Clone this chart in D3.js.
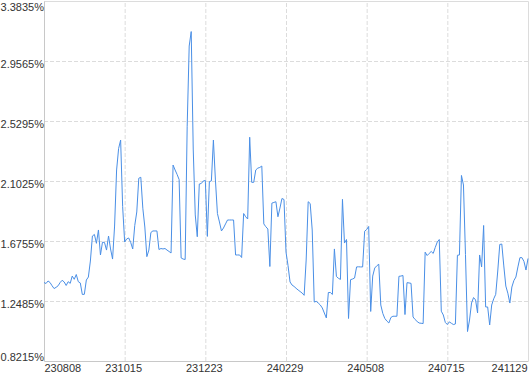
<!DOCTYPE html>
<html>
<head>
<meta charset="utf-8">
<script src="https://cdn.jsdelivr.net/npm/d3@7"></script>
<style>
  body { margin: 0; background: #fff; }
  svg text { font-family: Tahoma, "Liberation Sans", Arial, sans-serif; font-size: 11px; fill: #333; }
</style>
</head>
<body>
<script>
// percent values, one per trading day
const values = [
  1.380, 1.373, 1.391, 1.380, 1.357, 1.337, 1.346, 1.357, 1.380, 1.396,
  1.384, 1.359, 1.386, 1.374, 1.426, 1.403, 1.437, 1.386, 1.377, 1.295,
  1.296, 1.398, 1.419, 1.533, 1.711, 1.722, 1.659, 1.754, 1.576, 1.667,
  1.665, 1.611, 1.711, 1.619, 1.547, 1.782, 2.181, 2.334, 2.394, 1.920,
  1.668, 1.690, 1.697, 1.665, 1.619, 1.786, 1.882, 2.122, 2.129, 1.909,
  1.775, 1.564, 1.611, 1.736, 1.747, 1.747, 1.747, 1.615, 1.622, 1.619,
  1.622, 1.611, 1.601, 1.590, 2.216, 2.181, 2.149, 2.113, 1.555, 1.547,
  1.544, 2.492, 3.063, 3.166, 2.330, 1.861, 1.706, 2.081, 2.085, 2.103,
  2.106, 1.708, 2.098, 2.103, 2.394, 2.110, 1.871, 1.811, 1.747, 1.768,
  1.797, 1.825, 1.825, 1.825, 1.825, 1.576, 1.576, 1.576, 1.558, 1.871,
  1.848, 1.832, 2.414, 2.093, 2.093, 2.181, 2.194, 2.199, 2.209, 1.797,
  1.777, 1.761, 1.494, 1.945, 1.950, 1.955, 1.848, 1.910, 1.978, 1.971,
  1.597, 1.501, 1.384, 1.362, 1.352, 1.339, 1.327, 1.316, 1.305, 1.289,
  1.540, 1.955, 1.942, 1.754, 1.241, 1.246, 1.234, 1.220, 1.199, 1.163,
  1.128, 1.309, 1.309, 1.295, 1.619, 1.423, 1.410, 1.402, 1.972, 1.661,
  1.686, 1.124, 1.400, 1.405, 1.412, 1.491, 1.492, 1.491, 1.491, 1.745,
  1.757, 1.779, 1.174, 1.426, 1.483, 1.499, 1.510, 1.220, 1.160, 1.124,
  1.106, 1.092, 1.131, 1.140, 1.140, 1.140, 1.424, 1.426, 1.430, 1.152,
  1.379, 1.377, 1.374, 1.135, 1.117, 1.103, 1.092, 1.090, 1.088, 1.596,
  1.572, 1.587, 1.601, 1.587, 1.629, 1.668, 1.686, 1.176, 1.149, 1.096,
  1.081, 1.100, 1.090, 1.081, 1.085, 1.574, 1.576, 2.142, 2.074, 1.579,
  1.031, 1.113, 1.234, 1.273, 1.256, 1.163, 1.576, 1.491, 1.786, 1.206,
  1.206, 1.078, 1.220, 1.264, 1.296, 1.462, 1.651, 1.654, 1.498, 1.355,
  1.304, 1.234, 1.348, 1.394, 1.419, 1.491, 1.557, 1.557, 1.530, 1.469,
  1.551
];

// x axis labels sit on every 40th day, plus the last one
const xTickIdx = [0, 40, 80, 120, 160, 200, 240];
const xTickLabels = ["230808", "231015", "231223", "240229", "240508", "240715", "241129"];

const yTicks = [0.8215, 1.2485, 1.6755, 2.1025, 2.5295, 2.9565, 3.3835];

const width = 530, height = 374;
const margin = { top: 1, right: 2, bottom: 13, left: 44 };

const svg = d3.select("body").append("svg")
    .attr("width", width)
    .attr("height", height);

const x = d3.scaleLinear()
    .domain([0, values.length - 1])
    .range([margin.left, width - margin.right]);

const y = d3.scaleLinear()
    .domain([yTicks[0], yTicks[yTicks.length - 1]])
    .range([height - margin.bottom, margin.top]);

const plotW = width - margin.left - margin.right;
const plotH = height - margin.top - margin.bottom;

// horizontal grid
svg.append("g")
    .attr("transform", `translate(${margin.left},0)`)
    .call(d3.axisLeft(y).tickValues(yTicks.slice(1, -1)).tickSize(-plotW).tickFormat(""))
    .call(g => g.select(".domain").remove())
    .call(g => g.selectAll("line").attr("stroke", "#dcdcdc").attr("stroke-dasharray", "4,2"));

// vertical grid
svg.append("g")
    .attr("transform", `translate(0,${height - margin.bottom})`)
    .call(d3.axisBottom(x).tickValues(xTickIdx.slice(1, -1)).tickSize(-plotH).tickFormat(""))
    .call(g => g.select(".domain").remove())
    .call(g => g.selectAll("line").attr("stroke", "#dcdcdc").attr("stroke-dasharray", "4,2"));

// frame top & right
svg.append("path")
    .attr("d", `M${margin.left},${margin.top + 0.5}H${width - margin.right + 0.5}V${height - margin.bottom}`)
    .attr("fill", "none")
    .attr("stroke", "#dcdcdc");

// y axis
svg.append("g")
    .attr("transform", `translate(${margin.left},0)`)
    .call(d3.axisLeft(y).tickValues(yTicks).tickSize(0).tickPadding(0)
        .tickFormat(d => d.toFixed(4) + "%"))
    .call(g => g.select(".domain").attr("stroke", "#c8c8c8"))
    .call(g => g.selectAll("text")
        .attr("dy", null)
        .attr("y", (d, i) => {
            let b = 6.5;
            if (i === 0) b = -1;
            if (i === yTicks.length - 1) b = 9;
            return b;
        }));

// x axis
svg.append("g")
    .attr("transform", `translate(0,${height - margin.bottom})`)
    .call(d3.axisBottom(x).tickValues(xTickIdx).tickSize(0)
        .tickFormat((d, i) => xTickLabels[i]))
    .call(g => g.select(".domain").attr("stroke", "#c8c8c8"))
    .call(g => g.selectAll("text")
        .attr("dy", null)
        .attr("y", 11)
        .attr("text-anchor", (d, i) => i === 0 ? "start" : (i === xTickIdx.length - 1 ? "end" : "middle"))
        .attr("dx", (d, i) => i === xTickIdx.length - 1 ? -1 : (i === 0 ? 0 : -1.5)));

svg.selectAll(".tick text").style("font-family", null).style("font-size", null);
svg.selectAll("g").attr("font-family", null).attr("font-size", null);

const line = d3.line()
    .x((d, i) => x(i))
    .y(d => y(d));

svg.append("path")
    .datum(values)
    .attr("d", line)
    .attr("fill", "none")
    .attr("stroke", "#4a8fe6")
    .attr("stroke-width", 1);
</script>
</body>
</html>
